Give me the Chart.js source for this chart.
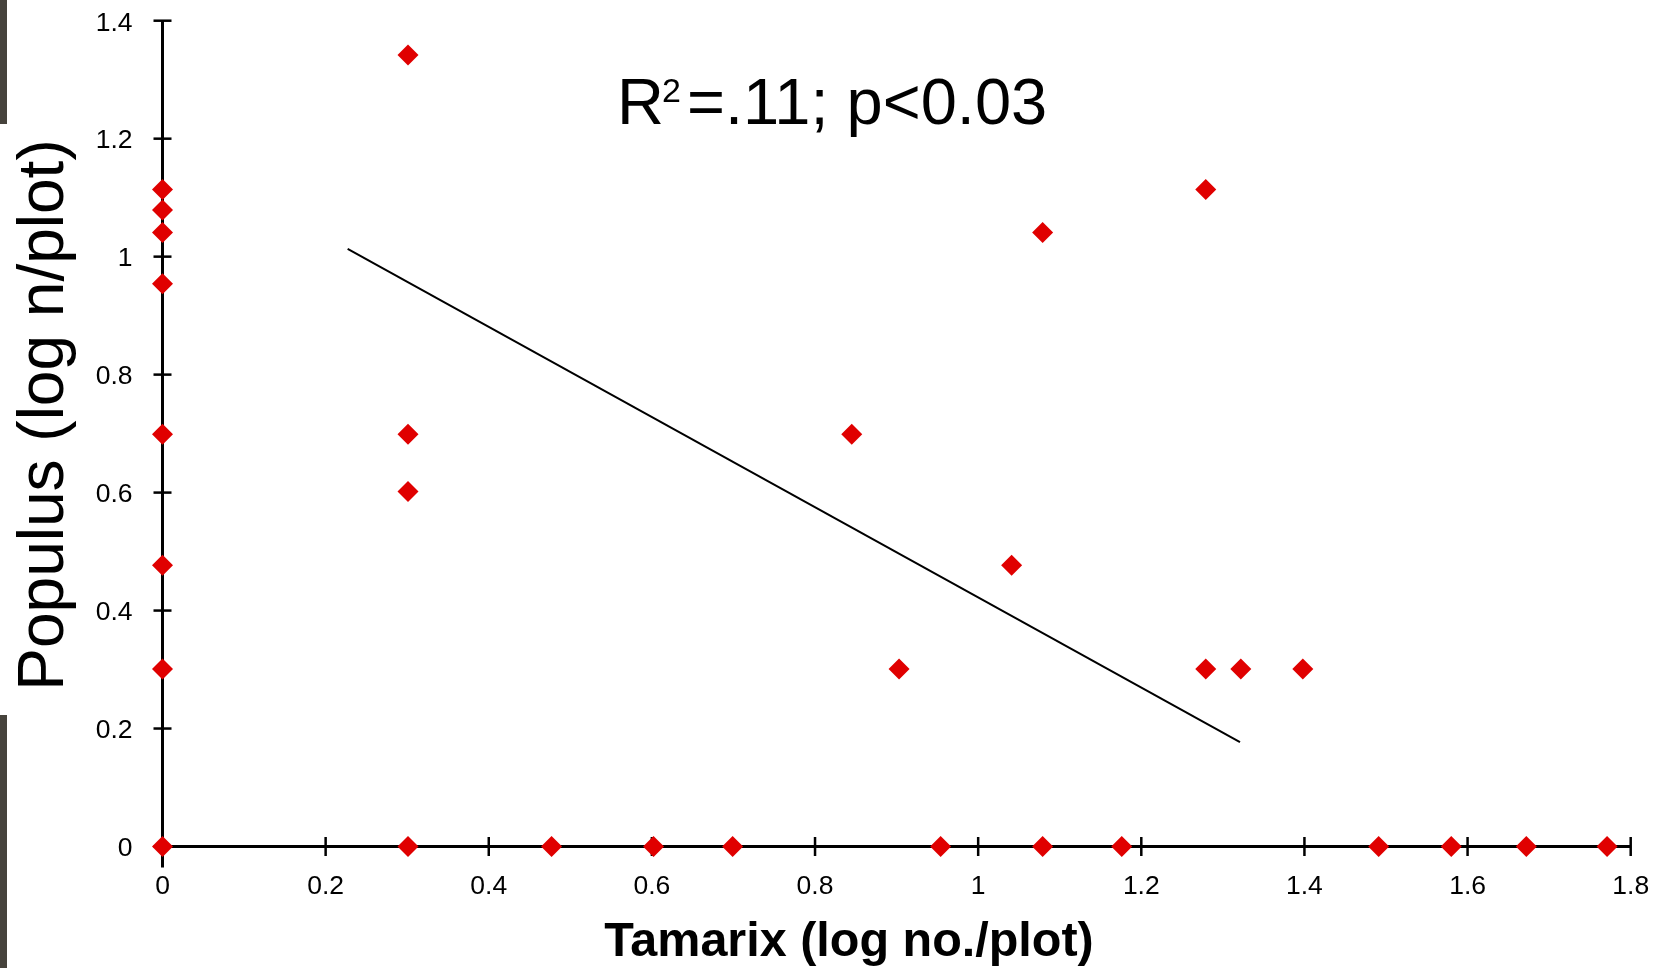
<!DOCTYPE html>
<html>
<head>
<meta charset="utf-8">
<script src="https://cdn.jsdelivr.net/npm/chart.js@4/dist/chart.umd.min.js"></script>
<style>
  html, body { margin: 0; padding: 0; background: #ffffff; }
  #wrap { position: relative; width: 1655px; height: 968px; }
</style>
</head>
<body>
<div id="wrap"><canvas id="c"></canvas></div>
<script>
// ---- data ----
const tamarixX = [0, 0, 0, 0, 0, 0, 0, 0,
                  0.301, 0.301, 0.301, 0.301,
                  0.477, 0.602, 0.699, 0.845, 0.903, 0.954, 1.041,
                  1.079, 1.079, 1.176, 1.279, 1.279, 1.322, 1.398,
                  1.491, 1.580, 1.672, 1.771];
const populusY = [1.114, 1.079, 1.041, 0.954, 0.699, 0.477, 0.301, 0,
                  1.342, 0.699, 0.602, 0,
                  0, 0, 0, 0.699, 0.301, 0, 0.477,
                  1.041, 0, 0, 1.114, 0.301, 0.301, 0.301,
                  0, 0, 0, 0];
const trendX = [0.227, 1.321];
const trendY = [1.013, 0.177];

const xTickValues = [0, 0.2, 0.4, 0.6, 0.8, 1, 1.2, 1.4, 1.6, 1.8];
const xTickLabels = ['0', '0.2', '0.4', '0.6', '0.8', '1', '1.2', '1.4', '1.6', '1.8'];
const yTickValues = [0, 0.2, 0.4, 0.6, 0.8, 1, 1.2, 1.4];
const yTickLabels = ['0', '0.2', '0.4', '0.6', '0.8', '1', '1.2', '1.4'];

const xTitle = 'Tamarix (log no./plot)';
const yTitle = 'Populus (log n/plot)';
const statMain = 'R';
const statSup = '2';
const statRest = '=.11; p<0.03';

const FONT = "'Liberation Sans', Arial, Helvetica, sans-serif";

const scatterPts = tamarixX.map((x, i) => ({ x: x, y: populusY[i] }));
const trendPts = trendX.map((x, i) => ({ x: x, y: trendY[i] }));

// ---- plugin: background strip, axes with crossing ticks, titles, annotation ----
const decor = {
  id: 'decor',
  beforeDraw(chart) {
    const ctx = chart.ctx;
    ctx.save();
    ctx.fillStyle = '#ffffff';
    ctx.fillRect(0, 0, chart.width, chart.height);
    // dark photo edge at the far left
    ctx.fillStyle = '#46433c';
    ctx.fillRect(0, 0, 7, 124);
    ctx.fillRect(0, 715, 7, chart.height - 715);
    ctx.restore();
  },
  beforeDatasetsDraw(chart) {
    const ctx = chart.ctx;
    const xs = chart.scales.x, ys = chart.scales.y;
    const x0 = xs.getPixelForValue(0);
    const y0 = ys.getPixelForValue(0);
    const yTop = ys.getPixelForValue(yTickValues[yTickValues.length - 1]);
    const xRight = xs.getPixelForValue(xTickValues[xTickValues.length - 1]);
    ctx.save();
    ctx.strokeStyle = '#000000';
    ctx.lineCap = 'butt';
    // axis lines
    ctx.lineWidth = 3;
    ctx.beginPath();
    ctx.moveTo(x0, yTop);
    ctx.lineTo(x0, y0 + 21);
    ctx.stroke();
    ctx.beginPath();
    ctx.moveTo(x0, y0);
    ctx.lineTo(xRight, y0);
    ctx.stroke();
    // crossing tick marks
    ctx.lineWidth = 2.5;
    yTickValues.forEach(v => {
      const p = ys.getPixelForValue(v);
      ctx.beginPath();
      ctx.moveTo(x0 - 9, p);
      ctx.lineTo(x0 + 9, p);
      ctx.stroke();
    });
    xTickValues.forEach(v => {
      const p = xs.getPixelForValue(v);
      ctx.beginPath();
      ctx.moveTo(p, y0 - 9.5);
      ctx.lineTo(p, y0 + 9.5);
      ctx.stroke();
    });
    ctx.restore();
  },
  afterDraw(chart) {
    const ctx = chart.ctx;
    ctx.save();
    ctx.fillStyle = '#000000';
    // x title
    ctx.font = 'bold 48.5px ' + FONT;
    ctx.textAlign = 'center';
    ctx.textBaseline = 'alphabetic';
    ctx.fillText(xTitle, 849, 956);
    // y title (rotated)
    ctx.save();
    ctx.translate(63, 415);
    ctx.rotate(-Math.PI / 2);
    ctx.font = '64px ' + FONT;
    ctx.textAlign = 'center';
    ctx.textBaseline = 'alphabetic';
    ctx.fillText(yTitle, 0, 0);
    ctx.restore();
    // statistics annotation
    ctx.textAlign = 'left';
    ctx.textBaseline = 'alphabetic';
    ctx.font = '65px ' + FONT;
    const sx = 617, sb = 124;
    ctx.fillText(statMain, sx, sb);
    const wR = ctx.measureText(statMain).width;
    ctx.font = '34px ' + FONT;
    ctx.fillText(statSup, sx + wR - 2, 102);
    ctx.font = '65px ' + FONT;
    ctx.fillText(statRest, 687, sb);
    ctx.restore();
  }
};

new Chart(document.getElementById('c'), {
  type: 'scatter',
  data: {
    datasets: [
      {
        label: 'Populus vs Tamarix',
        data: scatterPts,
        pointStyle: 'rectRot',
        pointRadius: 10.5,
        pointHoverRadius: 10.5,
        backgroundColor: '#e00000',
        borderColor: '#e00000',
        borderWidth: 0,
        clip: false,
        order: 1
      },
      {
        type: 'line',
        label: 'Trend',
        data: trendPts,
        borderColor: '#000000',
        borderWidth: 2,
        pointRadius: 0,
        fill: false,
        showLine: true,
        tension: 0,
        clip: false,
        order: 2
      }
    ]
  },
  options: {
    responsive: true,
    maintainAspectRatio: false,
    devicePixelRatio: 1,
    animation: false,
    events: [],
    layout: { padding: 0 },
    plugins: {
      legend: { display: false },
      tooltip: { enabled: false },
      title: { display: false }
    },
    scales: {
      x: {
        type: 'linear',
        min: 0,
        max: 1.8,
        afterBuildTicks: s => { s.ticks = xTickValues.map(v => ({ value: v })); },
        afterFit: s => { s.height = 121.5; s.paddingLeft = 0; s.paddingRight = 24.3; },
        grid: { display: false, drawTicks: false, tickLength: 0 },
        border: { display: false },
        ticks: {
          autoSkip: false,
          maxRotation: 0,
          padding: 24,
          color: '#000000',
          font: { family: FONT, size: 26.5 },
          callback: (v, i) => xTickLabels[i]
        },
        title: { display: false }
      },
      y: {
        type: 'linear',
        min: 0,
        max: 1.4,
        afterBuildTicks: s => { s.ticks = yTickValues.map(v => ({ value: v })); },
        afterFit: s => { s.width = 162.5; s.paddingTop = 20.7; s.paddingBottom = 0; },
        grid: { display: false, drawTicks: false, tickLength: 0 },
        border: { display: false },
        ticks: {
          autoSkip: false,
          padding: 30,
          labelOffset: 2.5,
          color: '#000000',
          font: { family: FONT, size: 26.5 },
          callback: (v, i) => yTickLabels[i]
        },
        title: { display: false }
      }
    }
  },
  plugins: [decor]
});
</script>
</body>
</html>
